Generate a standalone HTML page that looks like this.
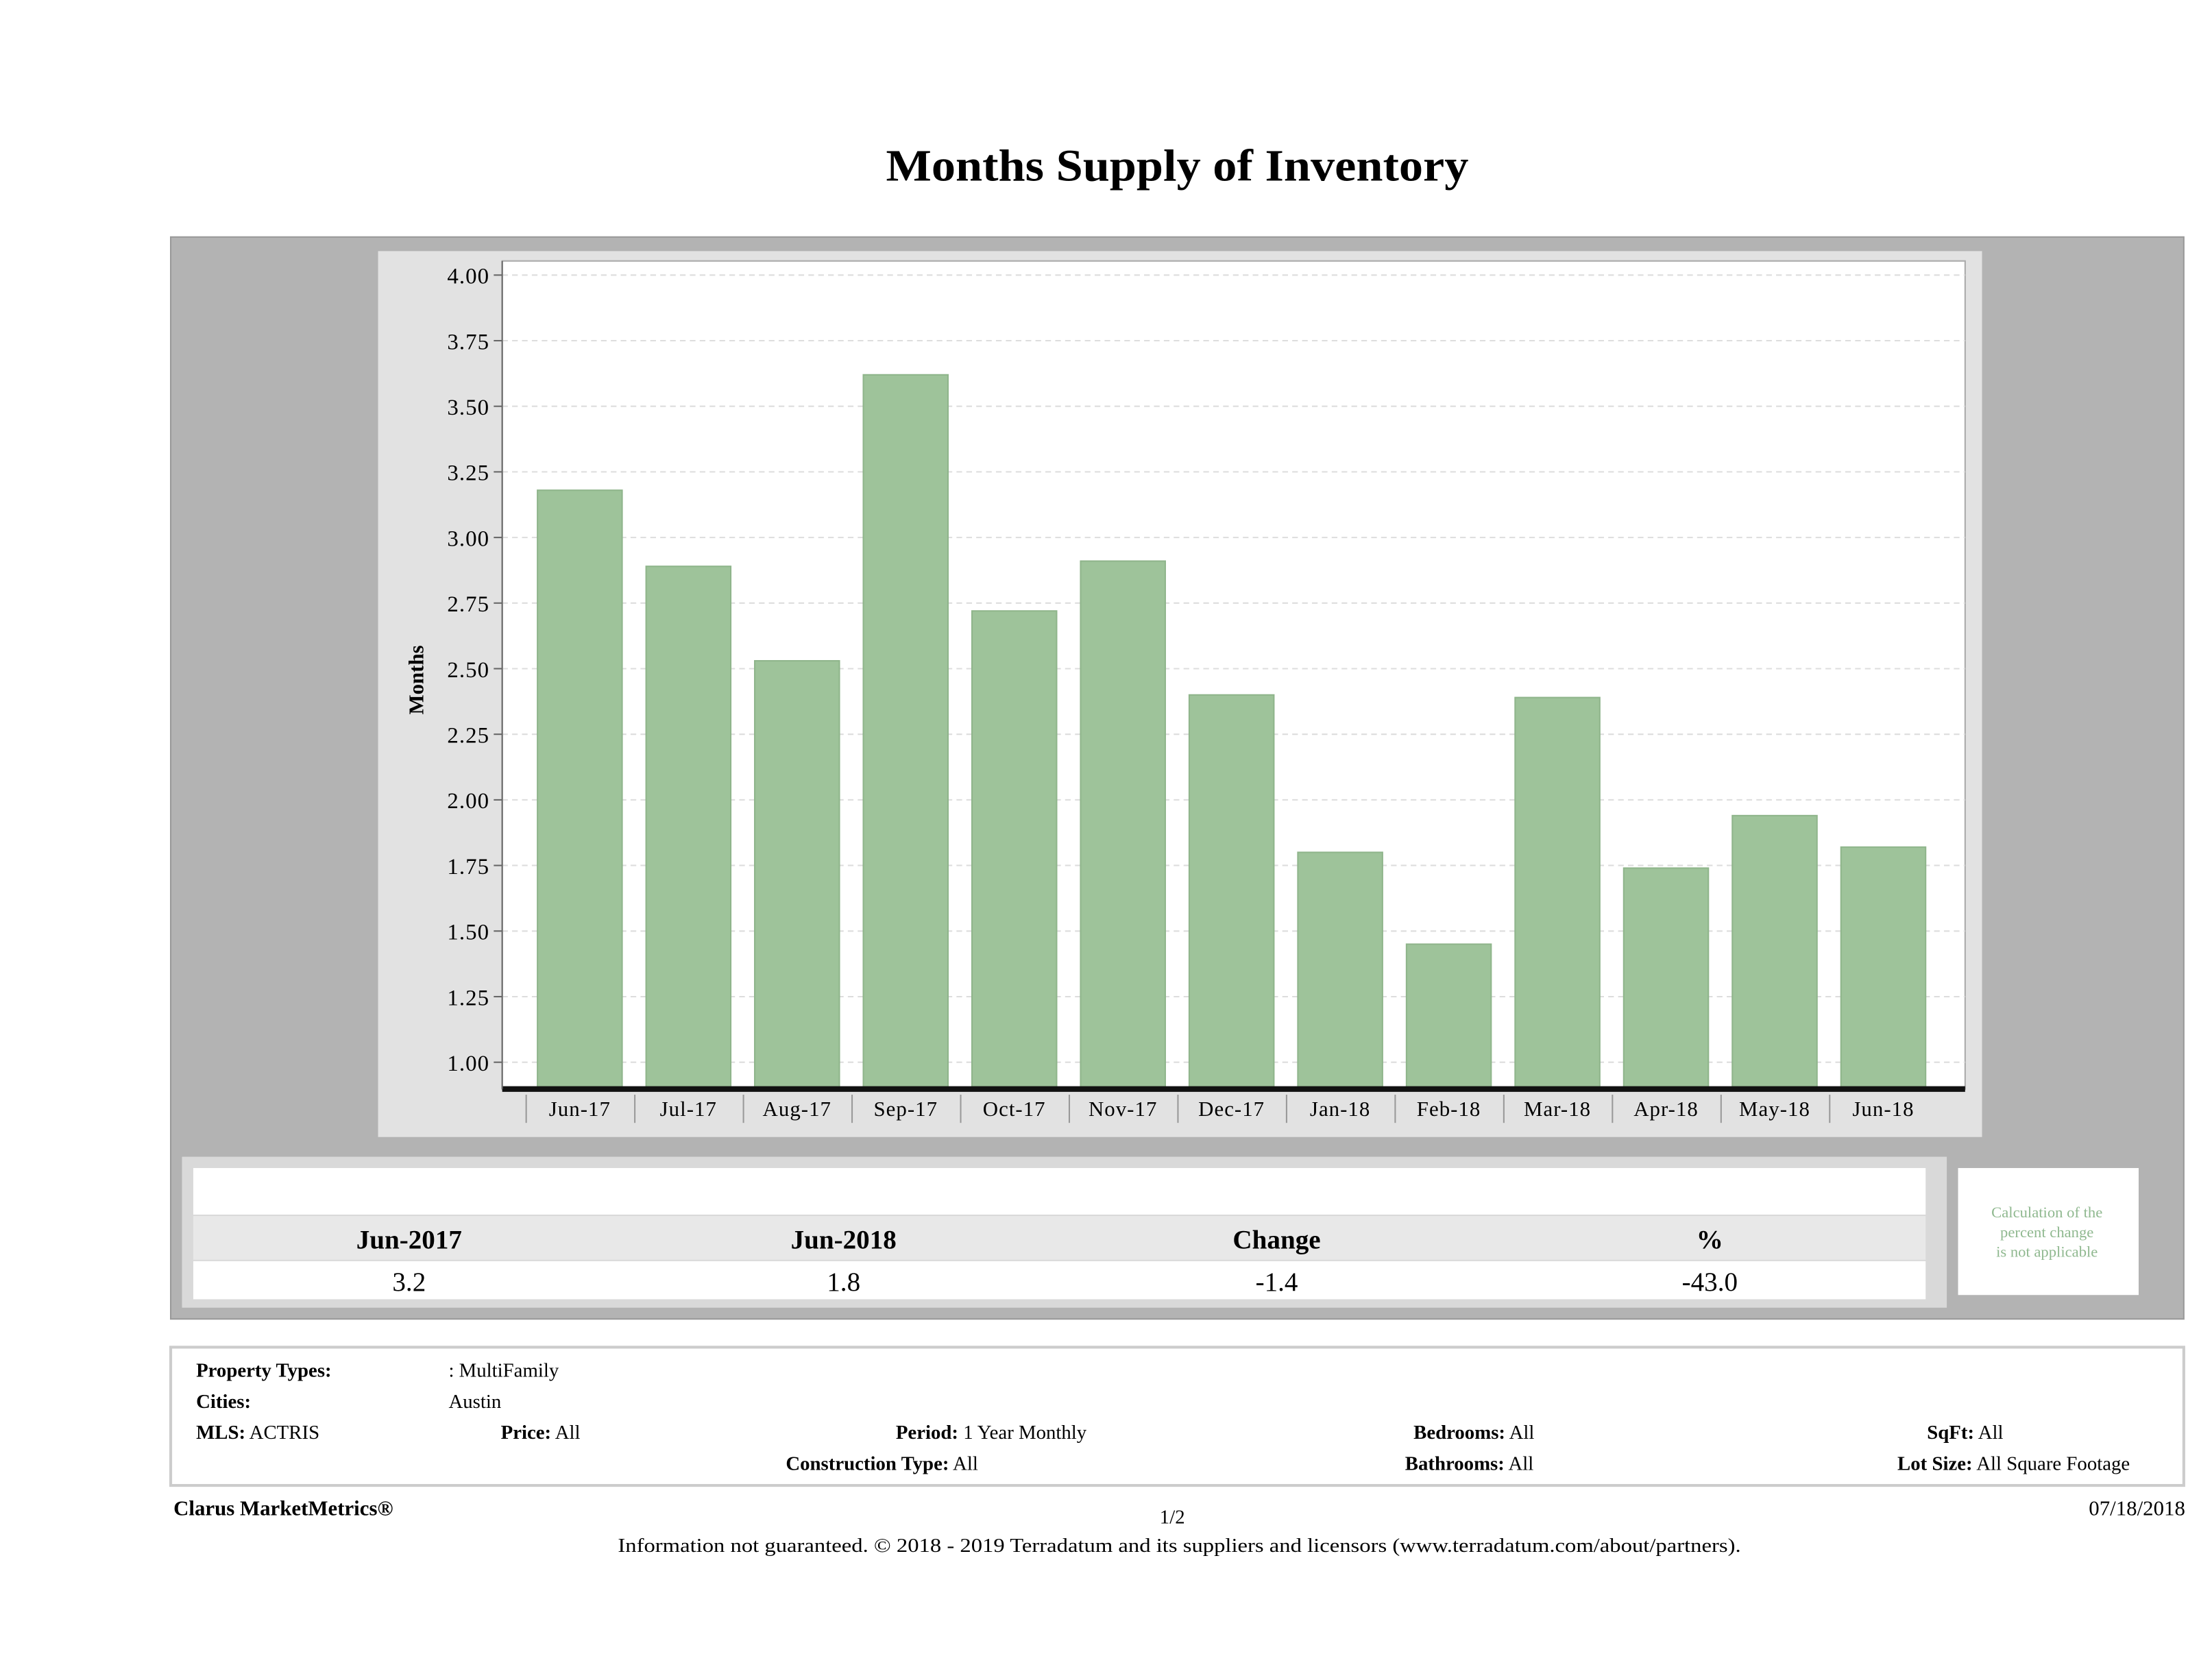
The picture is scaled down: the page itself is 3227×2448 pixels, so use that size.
<!DOCTYPE html>
<html><head><meta charset="utf-8"><style>
html,body{margin:0;padding:0;background:#fff;}
svg{display:block;}
text{font-family:"Liberation Serif",serif;}
</style></head><body>
<svg id="s" width="3227" height="2448" viewBox="0 0 1568 1189.5" preserveAspectRatio="none" xmlns="http://www.w3.org/2000/svg">
<text x="628" y="128" textLength="413" lengthAdjust="spacingAndGlyphs" font-size="32" font-weight="bold">Months Supply of Inventory</text>
<rect x="121" y="168" width="1427" height="767" fill="#b3b3b3" stroke="#999"/>
<rect x="268" y="178" width="1137" height="628" fill="#e2e2e2"/>
<rect x="356" y="185" width="1037" height="587" fill="#fff" stroke="#aaa"/>
<g id="grid"></g><g id="bars"></g><g id="axes"></g>
<text transform="translate(300,482) rotate(-90)" text-anchor="middle" font-size="15" font-weight="bold">Months</text>
<rect x="129" y="820" width="1251" height="107" fill="#d9d9d9"/>
<rect x="137" y="828" width="1228" height="33" fill="#fff"/>
<rect x="137" y="862" width="1228" height="31" fill="#e8e8e8"/>
<rect x="137" y="894" width="1228" height="27" fill="#fff"/>
<g font-size="19" text-anchor="middle">
<text x="290" y="885" font-weight="bold">Jun-2017</text>
<text x="598" y="885" font-weight="bold">Jun-2018</text>
<text x="905" y="885" font-weight="bold">Change</text>
<text x="1212" y="885" font-weight="bold">%</text>
<text x="290" y="915">3.2</text>
<text x="598" y="915">1.8</text>
<text x="905" y="915">-1.4</text>
<text x="1212" y="915">-43.0</text>
</g>
<rect x="1388" y="828" width="128" height="90" fill="#fff"/>
<g font-size="11" fill="#8fb88f" text-anchor="middle">
<text x="1451" y="863">Calculation of the</text><text x="1451" y="877">percent change</text><text x="1451" y="891">is not applicable</text></g>
<rect x="121" y="955" width="1427" height="98" fill="#fff" stroke="#ccc" stroke-width="2"/>
<g font-size="14">
<text x="139" y="976" font-weight="bold">Property Types:</text><text x="318" y="976">: MultiFamily</text>
<text x="139" y="998" font-weight="bold">Cities:</text><text x="318" y="998">Austin</text>
<text x="139" y="1020"><tspan font-weight="bold">MLS:</tspan>   ACTRIS</text>
<text x="355" y="1020"><tspan font-weight="bold">Price:</tspan> All</text>
<text x="635" y="1020"><tspan font-weight="bold">Period:</tspan> 1 Year Monthly</text>
<text x="1002" y="1020"><tspan font-weight="bold">Bedrooms:</tspan> All</text>
<text x="1366" y="1020"><tspan font-weight="bold">SqFt:</tspan>  All</text>
<text x="557" y="1042"><tspan font-weight="bold">Construction Type:</tspan> All</text>
<text x="996" y="1042"><tspan font-weight="bold">Bathrooms:</tspan> All</text>
<text x="1345" y="1042"><tspan font-weight="bold">Lot Size:</tspan>  All Square Footage</text>
</g>
<text x="123" y="1074" font-size="15" font-weight="bold">Clarus MarketMetrics®</text>
<text x="1549" y="1074" font-size="15" text-anchor="end">07/18/2018</text>
<text x="831" y="1080" font-size="14" text-anchor="middle">1/2</text>
<text x="438" y="1100" textLength="796" lengthAdjust="spacingAndGlyphs" font-size="14">Information not guaranteed. © 2018 - 2019 Terradatum and its suppliers and licensors (www.terradatum.com/about/partners).</text>
</svg>
<script>
const categories=["Jun-17","Jul-17","Aug-17","Sep-17","Oct-17","Nov-17","Dec-17","Jan-18","Feb-18","Mar-18","Apr-18","May-18","Jun-18"];
const values=[3.18,2.89,2.53,3.62,2.72,2.91,2.40,1.80,1.45,2.39,1.74,1.94,1.82];
const yTicks=[1.00,1.25,1.50,1.75,2.00,2.25,2.50,2.75,3.00,3.25,3.50,3.75,4.00];
const NS="http://www.w3.org/2000/svg";
function y(v){return 753+(1-v)*186;}
function xc(i){return 411+i*77;}
const baseY=772;
function mk(tag,attrs,parent,txt){const e=document.createElementNS(NS,tag);for(const k in attrs)e.setAttribute(k,attrs[k]);if(txt!==undefined)e.textContent=txt;document.getElementById(parent).appendChild(e);return e;}
yTicks.forEach(t=>{
  const g=mk('line',{x1:356,x2:1393,y1:y(t),y2:y(t),stroke:'#ddd','stroke-dasharray':'4,3'},'grid');
  
  
  const tk=mk('line',{x1:350,x2:356,y1:y(t),y2:y(t),stroke:'#666'},'axes');
  
  
  const l=mk('text',{x:347,y:y(t)+6,'text-anchor':'end','font-size':'16','letter-spacing':'0.5'},'axes',t.toFixed(2));
  
  
});
values.forEach((v,i)=>{
  const b=mk('rect',{x:xc(i)-30,y:y(v),width:60,height:baseY-y(v),fill:'#9ec39a',stroke:'#8fb58b'},'bars');
  
  
  const l=mk('text',{x:xc(i),y:791,'text-anchor':'middle','font-size':'15','letter-spacing':'0.5'},'axes',categories[i]);
  
  
  const s=mk('line',{x1:xc(i)-38,x2:xc(i)-38,y1:776,y2:796,stroke:'#999'},'axes');
  
  
});
const ax=mk('line',{x1:356,x2:1393,y1:baseY,y2:baseY,stroke:'#111','stroke-width':4},'axes');


const ay=mk('line',{x1:356,x2:356,y1:185,y2:772,stroke:'#666'},'axes');


</script>
</body></html>
